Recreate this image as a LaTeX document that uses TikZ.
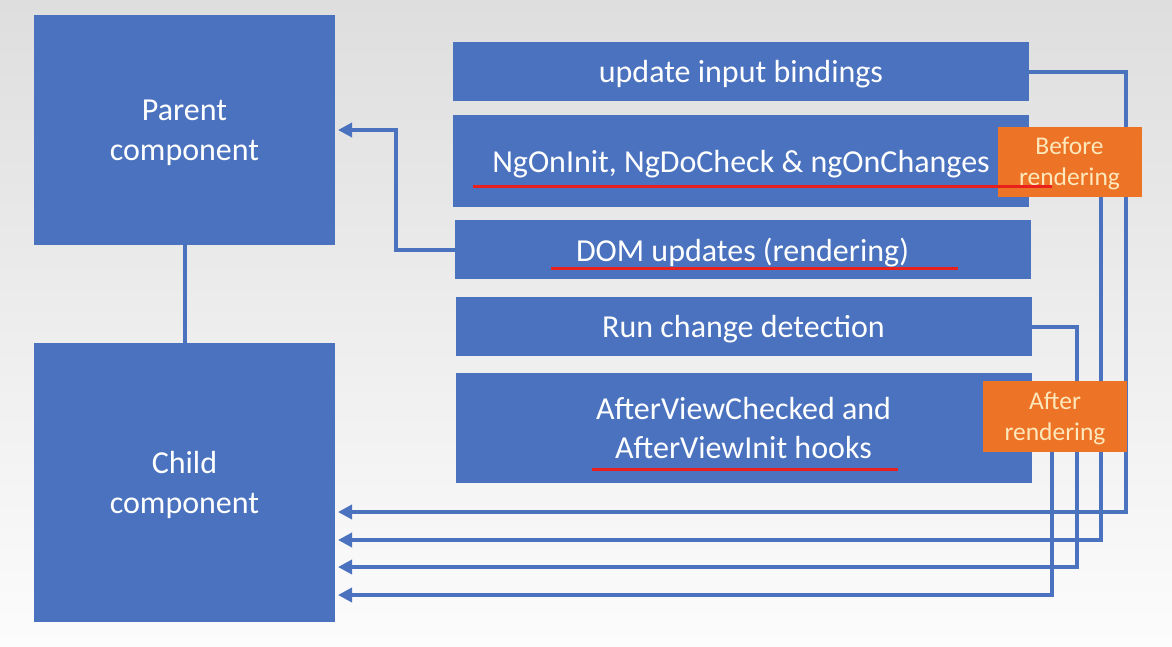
\documentclass[tikz,border=0pt]{standalone}
\usepackage{fontspec}
\setmainfont{Carlito}
\usepackage{tikz}
\usetikzlibrary{arrows.meta,positioning,calc}
\definecolor{boxblue}{RGB}{74,114,190}
\definecolor{labelorange}{RGB}{237,115,38}
\definecolor{labeltext}{RGB}{253,232,188}
\definecolor{markred}{RGB}{234,32,28}
\definecolor{bgtop}{RGB}{222,222,222}
\definecolor{bgbottom}{RGB}{252,252,252}
\tikzset{
  bigbox/.style={fill=boxblue,minimum width=301pt,align=center,text=white,
    font=\fontsize{32}{40}\selectfont,inner sep=0pt,outer sep=0pt,text depth=0pt},
  stepbox/.style={fill=boxblue,minimum width=576pt,minimum height=59pt,align=center,
    text=white,font=\fontsize{32}{39}\selectfont,inner sep=0pt,outer sep=0pt,
    text depth=0pt},
  phasebox/.style={fill=labelorange,minimum width=144pt,minimum height=70pt,
    align=center,text=labeltext,font=\fontsize{25.5}{31}\selectfont,inner sep=0pt,
    text depth=0pt},
  flowline/.style={-{Triangle[length=14pt,width=14pt]},line width=4pt,draw=boxblue,
    shorten >=3pt},
  linkline/.style={line width=4pt,draw=boxblue},
  redmark/.style={line width=3pt,draw=markred},
}

\begin{document}
\begin{tikzpicture}[x=1pt,y=-1pt]
        \shade[top color=bgtop,bottom color=bgbottom] (0,0) rectangle (1172,646);
        \useasboundingbox (0,0) rectangle (1172,646);
        % components
        \node[bigbox,minimum height=230pt] (parent) at (184.5,130) {Parent\\component};
        \node[bigbox,minimum height=279pt,below=98pt of parent] (child) {Child\\component};
        \draw[linkline] (parent) -- (child);
        % change detection steps
        \node[stepbox] (bind) at (741,71.5) {update input bindings};
        \node[stepbox,minimum height=92pt,below=14pt of bind] (hooks)
          {NgOnInit, NgDoCheck \& ngOnChanges};
        \node[stepbox,below=13pt of hooks,xshift=1.5pt] (dom) {DOM updates (rendering)};
        \node[stepbox,below=18pt of dom,xshift=1pt] (detect) {Run change detection};
        \node[stepbox,minimum height=110pt,below=17pt of detect] (after)
          {AfterViewChecked and\\AfterViewInit hooks};
        % connectors
        \coordinate (dm) at (396,130);
        \coordinate (r1) at (1126,512);
        \coordinate (r2) at (1101,540);
        \coordinate (r3) at (1077,567);
        \coordinate (r4) at (1052,595);
        \draw[flowline] (dom.west) -| (dm) -- (dm -| parent.east);
        \draw[flowline] (bind.east) -| (r1) -- (r1 -| child.east);
        \draw[flowline] (hooks.east) -| (r2) -- (r2 -| child.east);
        \draw[flowline] (detect.east) -| (r3) -- (r3 -| child.east);
        \draw[flowline] (after.east) -| (r4) -- (r4 -| child.east);
        % phases
        \node[phasebox] (before) at (1069.5,161.5) {Before\\rendering};
        \node[phasebox,minimum height=71pt] (afterlbl) at (1055,416.5) {After\\rendering};
        % underlines
        \draw[redmark] (473,186) -- (1052,186);
        \draw[redmark] (551,268) -- (958,268);
        \draw[redmark] (592,469) -- (898,469);
      \end{tikzpicture}
\end{document}
